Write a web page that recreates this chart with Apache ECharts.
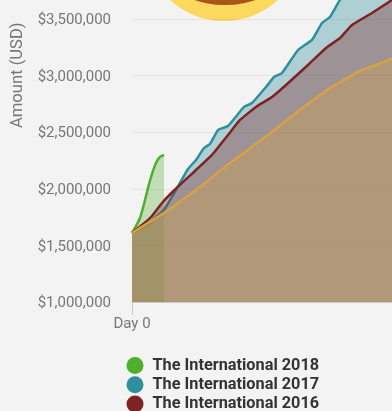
<!DOCTYPE html>
<html>
<head>
<meta charset="utf-8">
<style>html,body{margin:0;padding:0;background:#f3f3f3}#c{width:392px;height:411px}</style>
<script src="https://cdn.jsdelivr.net/npm/echarts@6/dist/echarts.min.js"></script>
</head>
<body>
<div id="c"></div>
<script>
const names = ['The International 2018','The International 2017','The International 2016','The International 2015'];
const legendNames = ['The International 2018','The International 2017','The International 2016'];
const colors = ['#4fae2c','#2f8f9f','#7f2222','#d8a244'];
const days2018 = [0,2,4,6,8,10,12,14,16];
const prize2018 = [1610000,1671000,1742000,1866000,2007000,2131000,2228000,2281000,2299000];
const days2017 = [0,8,16,22,28,32,36,39,43,48,56,60,67,71,75,83,90,95,99,104,114,134];
const prize2017 = [1610000,1690000,1815000,1990000,2175000,2254000,2360000,2396000,2519000,2555000,2723000,2758000,2899000,2988000,3023000,3226000,3315000,3465000,3518000,3668000,3845000,4140000];
const days2016 = [0,5,10,15,21,32,40,48,54,62,70,77,88,97,104,110,120,130,134];
const prize2016 = [1610000,1680000,1760000,1875000,1985000,2166000,2299000,2475000,2608000,2723000,2811000,2917000,3094000,3244000,3332000,3447000,3553000,3668000,3712000];
const days2015 = [0,8,16,32,49,66,82,99,114,122,130,134];
const prize2015 = [1610000,1698000,1786000,1989000,2228000,2449000,2670000,2890000,3041000,3094000,3147000,3164000];
const pairs = (d,v) => d.map((x,i) => [x,v[i]]);
const seriesData = [pairs(days2018,prize2018),pairs(days2017,prize2017),pairs(days2016,prize2016),pairs(days2015,prize2015)];
const chart = echarts.init(document.getElementById('c'),null,{renderer:'canvas'});
const font = 'Roboto';
chart.setOption({
  animation:false,
  backgroundColor:'#f3f3f3',
  textStyle:{fontFamily:font},
  graphic:[
    {type:'circle',z:0,silent:true,shape:{cx:224,cy:-59,r:80},style:{fill:'#fdd85e'}},
    {type:'circle',z:1,silent:true,shape:{cx:225,cy:-91,r:96},style:{fill:'#a9561d'}}
  ],
  grid:{left:132,right:-8,top:-37.6,bottom:109,outerBoundsMode:'none'},
  legend:{
    data:legendNames,orient:'vertical',left:126.5,top:356.5,height:70,padding:0,itemWidth:17,itemHeight:17,itemGap:1.2,icon:'circle',
    textStyle:{fontFamily:font,fontSize:16.3,fontWeight:'bold',color:'#333',lineHeight:17,padding:[1,0,0,4]}
  },
  xAxis:{
    type:'value',min:0,max:134,interval:134,
    axisLine:{show:true,lineStyle:{color:'#c8c8c8',width:1}},
    axisTick:{show:true,length:13,lineStyle:{color:'#c8c8c8'}},
    axisLabel:{fontFamily:font,fontSize:15,color:'#777',margin:15,formatter:v=>v===0?'Day 0':''},
    splitLine:{show:false}
  },
  yAxis:{
    type:'value',min:1000000,max:4000000,interval:500000,
    name:'Amount (USD)',nameLocation:'middle',nameGap:102,
    nameTextStyle:{fontFamily:font,fontSize:16.6,color:'#777',padding:[0,0,0,114]},
    axisLine:{show:false},axisTick:{show:false},
    axisLabel:{margin:21,formatter:v=>'{v|$'+v.toLocaleString('en-US')+'}',
      rich:{v:{fontFamily:font,fontSize:15,color:'#777',padding:[3,0,0,0]}}},
    splitLine:{show:true,lineStyle:{color:'rgba(0,0,0,0.06)',width:1}}
  },
  series:names.map((n,i)=>({
    name:n,type:'line',data:seriesData[i],smooth:0.12,showSymbol:false,
    itemStyle:{color:colors[i]},
    lineStyle:{color:colors[i],width:2.5},
    areaStyle:{color:colors[i],opacity:i===0?0.3:0.35},
    z:2+i
  }))
});
</script>
</body>
</html>
